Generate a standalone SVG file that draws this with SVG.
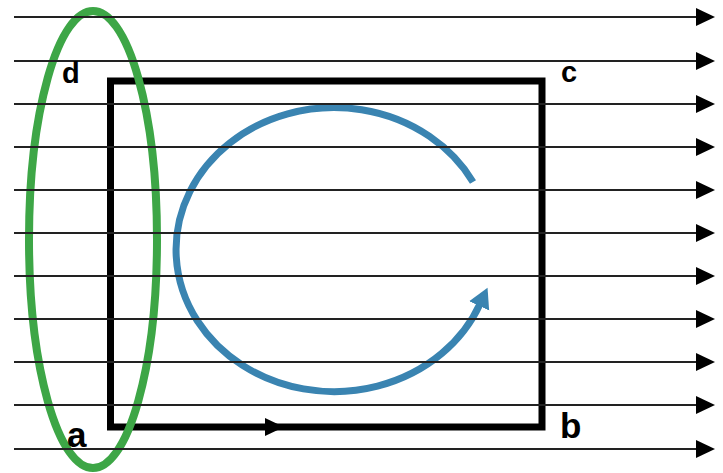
<svg xmlns="http://www.w3.org/2000/svg" width="723" height="473" viewBox="0 0 723 473">
<defs>
<style>
.field{stroke:#222;stroke-width:2;fill:none}
.head{fill:#000}
.lbl{font-family:"Liberation Sans",Arial,sans-serif;font-weight:bold;fill:#000}
</style>
<marker id="blueHead" markerUnits="userSpaceOnUse" markerWidth="24" markerHeight="26" refX="2" refY="12" orient="auto" viewBox="0 0 24 24">
<path d="M0,1 L20,12 L0,23 Z" fill="#3a84b1"/>
</marker>
</defs>
<rect width="723" height="473" fill="#fff"/>
<g id="loop">
<rect x="110.5" y="81" width="431.5" height="346" fill="none" stroke="#000" stroke-width="7"/>
<path d="M265,418 L284,427 L265,436 Z" class="head"/>
</g>
<g id="surface">
<ellipse cx="93" cy="239.5" rx="64" ry="228.5" fill="none" stroke="#3da646" stroke-width="8"/>
</g>
<g id="circulation">
<path d="M473,182 A158,142 0 1 0 480,304" fill="none" stroke="#3a84b1" stroke-width="7" marker-end="url(#blueHead)"/>
</g>
<g id="field-lines">
<g class="field">
<line x1="14" y1="17" x2="700" y2="17"/>
<line x1="14" y1="61" x2="700" y2="61"/>
<line x1="14" y1="104" x2="700" y2="104"/>
<line x1="14" y1="147" x2="700" y2="147"/>
<line x1="14" y1="190" x2="700" y2="190"/>
<line x1="14" y1="233" x2="700" y2="233"/>
<line x1="14" y1="276" x2="700" y2="276"/>
<line x1="14" y1="319" x2="700" y2="319"/>
<line x1="14" y1="362" x2="700" y2="362"/>
<line x1="14" y1="405" x2="700" y2="405"/>
<line x1="14" y1="449" x2="700" y2="449"/>
</g>
<g class="head">
<path d="M696,8 L715,17 L696,26 Z"/>
<path d="M696,52 L715,61 L696,70 Z"/>
<path d="M696,95 L715,104 L696,113 Z"/>
<path d="M696,138 L715,147 L696,156 Z"/>
<path d="M696,181 L715,190 L696,199 Z"/>
<path d="M696,224 L715,233 L696,242 Z"/>
<path d="M696,267 L715,276 L696,285 Z"/>
<path d="M696,310 L715,319 L696,328 Z"/>
<path d="M696,353 L715,362 L696,371 Z"/>
<path d="M696,396 L715,405 L696,414 Z"/>
<path d="M696,440 L715,449 L696,458 Z"/>
</g>
</g>
<g id="labels">
<text class="lbl" x="62" y="83" font-size="29">d</text>
<text class="lbl" x="561" y="82" font-size="29">c</text>
<text class="lbl" x="67" y="447" font-size="35">a</text>
<text class="lbl" x="560" y="438" font-size="35">b</text>
</g>
</svg>
